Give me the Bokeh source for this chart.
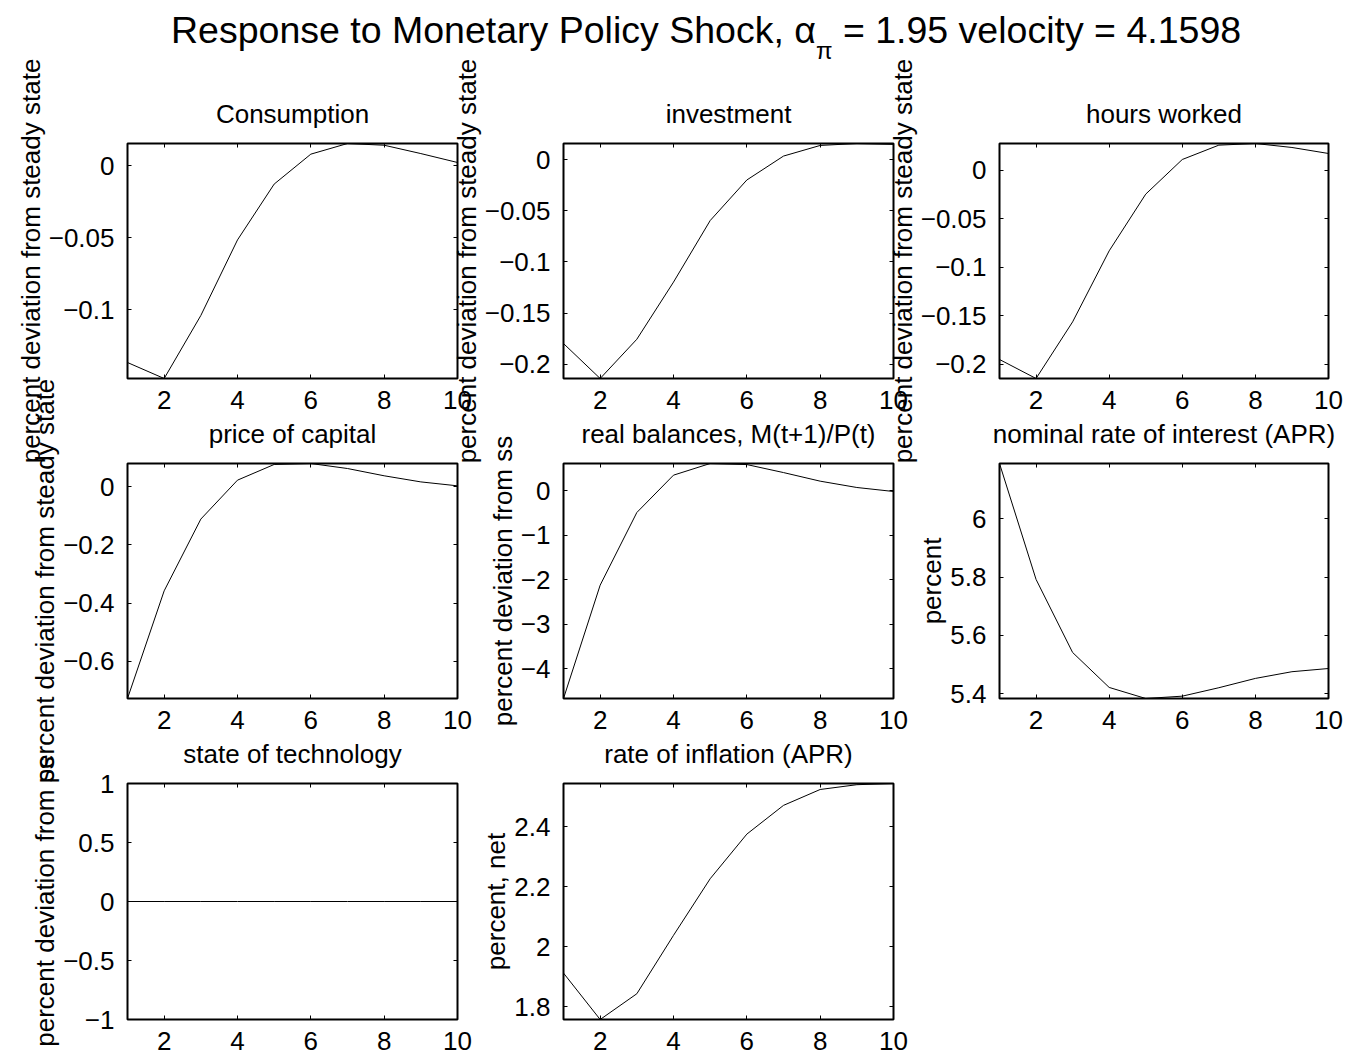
import numpy as np
from bokeh.plotting import figure
from bokeh.models import (Range1d, LinearAxis, SingleIntervalTicker,
                          CustomJSTickFormatter, CustomLabelingPolicy, Div)
from bokeh.embed import file_html
from bokeh.resources import INLINE

W, H = 1348, 1057
FONT = "Liberation Sans"
FS = "26px"

# ---- data ----
periods = list(range(1, 11))
consumption = [-0.1367, -0.1478, -0.1040, -0.0515, -0.0127, 0.0081, 0.0155, 0.0143, 0.0085, 0.0023]
investment = [-0.1798, -0.2140, -0.1756, -0.1197, -0.0595, -0.0198, 0.0036, 0.0140, 0.0159, 0.0150]
hours_worked = [-0.1952, -0.2148, -0.1564, -0.0832, -0.0247, 0.0110, 0.0258, 0.0275, 0.0234, 0.0172]
price_of_capital = [-0.7285, -0.358, -0.111, 0.023, 0.077, 0.0803, 0.063, 0.038, 0.017, 0.0034]
real_balances = [-4.667, -2.12, -0.487, 0.352, 0.614, 0.590, 0.410, 0.217, 0.075, -0.015]
nominal_rate = [6.190, 5.792, 5.541, 5.421, 5.383, 5.391, 5.420, 5.452, 5.475, 5.486]
technology = [0.0] * 10
inflation = [1.912, 1.757, 1.843, 2.038, 2.227, 2.376, 2.472, 2.525, 2.541, 2.545]

titles = ["Consumption", "investment", "hours worked",
          "price of capital", "real balances, M(t+1)/P(t)", "nominal rate of interest (APR)",
          "state of technology", "rate of inflation (APR)"]
ylabels = ["percent deviation from steady state"] * 4 + \
          ["percent deviation from ss", "percent", "percent deviation from ss", "percent, net"]
series = [consumption, investment, hours_worked, price_of_capital,
          real_balances, nominal_rate, technology, inflation]
ytick_step = [0.05, 0.05, 0.05, 0.2, 1, 0.2, 0.5, 0.2]
x_tick_step = 2

# frame boxes (left, top, right, bottom) in page pixels
cols = [(127, 457), (563, 893), (999, 1328)]
rows = [(143, 378), (463, 698), (783, 1019)]

fmt_code = """
var v = Math.round(tick*1e6)/1e6;
return v.toString().replace('-', '\u2212');
"""
no_labels = """
const ids = Array.from(indices);
for (const i of ids) indices.unset(i);
return indices;
"""

ABS = {"position": "absolute", "left": "0px", "top": "0px"}

figs = []
for i, (ttl, yl, ys, ystep) in enumerate(zip(titles, ylabels, series, ytick_step)):
    c = cols[i % 3]
    r = rows[i // 3]
    lo, hi = min(ys), max(ys)
    if lo == hi:
        lo, hi = lo - 1, hi + 1
    p = figure(width=W, height=H, output_backend="svg", toolbar_location=None,
               x_range=Range1d(periods[0], periods[-1]), y_range=Range1d(lo, hi),
               min_border_left=c[0], min_border_right=W - c[1],
               min_border_top=r[0], min_border_bottom=H - r[1],
               background_fill_color=None, border_fill_color=None,
               outline_line_color="black", outline_line_width=2,
               title=ttl, styles=ABS)
    p.title.text_font = FONT
    p.title.text_font_size = FS
    p.title.text_font_style = "normal"
    p.title.text_color = "black"
    p.title.align = "center"
    p.title.standoff = 14
    p.grid.visible = False

    xt = SingleIntervalTicker(interval=x_tick_step)
    yt = SingleIntervalTicker(interval=ystep)
    p.xaxis.ticker = xt
    p.yaxis.ticker = yt
    p.yaxis.formatter = CustomJSTickFormatter(code=fmt_code)
    p.xaxis.formatter = CustomJSTickFormatter(code=fmt_code)
    p.yaxis.axis_label = yl

    for ax in p.xaxis + p.yaxis:
        ax.axis_line_color = None
        ax.major_tick_in = 4
        ax.major_tick_out = 0
        ax.minor_tick_line_color = None
        ax.major_tick_line_color = "black"
        ax.major_label_text_font = FONT
        ax.major_label_text_font_size = FS
        ax.major_label_text_color = "black"
        ax.axis_label_text_font = FONT
        ax.axis_label_text_font_size = FS
        ax.axis_label_text_font_style = "normal"
        ax.axis_label_text_color = "black"
        ax.axis_label_standoff = 0
    for ax in p.xaxis:
        ax.major_label_standoff = 8
    for ax in p.yaxis:
        ax.major_label_standoff = 9

    for loc, tk in (("right", yt), ("above", xt)):
        ax = LinearAxis(ticker=tk, axis_line_color=None, major_tick_in=4, major_tick_out=0,
                        minor_tick_line_color=None, major_label_standoff=0,
                        major_label_text_font_size="1px",
                        major_label_policy=CustomLabelingPolicy(code=no_labels))
        p.add_layout(ax, loc)

    p.line(periods, ys, line_color="black", line_width=1)
    figs.append(p)

title_html = (
    '<div style="position:absolute; left:166px; top:-1px; white-space:nowrap; '
    'font-family:\'Liberation Sans\'; font-size:37.5px; color:black;">'
    'Response to Monetary Policy Shock, &alpha;'
    '<span style="position:relative; top:16px; font-size:24px;">&pi;</span>'
    ' = 1.95 velocity = 4.1598</div>'
)
head = Div(text=title_html, width=W, height=80, styles=ABS)

with open("out.html", "w") as fh:
    fh.write(file_html([head] + figs, INLINE))
